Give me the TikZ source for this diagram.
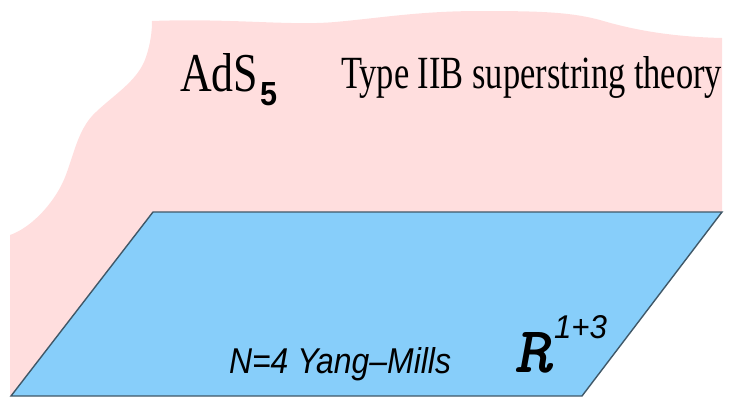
\documentclass[tikz,border=0pt]{standalone}
\usepackage{fontspec}
\setmainfont{Liberation Serif}
\newfontfamily\helv{Liberation Sans}
\usepackage{graphicx}
\definecolor{bulkpink}{RGB}{255,222,222}
\definecolor{braneblue}{RGB}{135,206,250}
\definecolor{braneedge}{RGB}{64,88,104}
\tikzset{
  label/.style={inner sep=0pt, outer sep=0pt, anchor=base west},
}
\begin{document}
\begin{tikzpicture}[x=1pt,y=-1pt]
\useasboundingbox (0,0) rectangle (731,397);
% bulk region (AdS_5), drawn behind the brane
\fill[bulkpink]
  (152,21) .. controls (230,18) and (290,26) .. (335,22)
           .. controls (380,18) and (420,11) .. (480,11)
           .. controls (540,11) and (570,12) .. (600,20)
           .. controls (640,32) and (680,37) .. (722,38)
  -- (722,212) -- (582,396) -- (10,396) -- (10,235)
           .. controls (30,228) and (50,207) .. (61,186)
           .. controls (72,165) and (75,135) .. (92,116)
           .. controls (110,97) and (138,82) .. (146,57)
           .. controls (151,42) and (152,30) .. (152,21)
  -- cycle;
% the boundary R^{1+3}
\coordinate (tl) at (153,212);
\coordinate (tr) at (722,212);
\coordinate (br) at (582,396);
\coordinate (bl) at (11,396);
\draw[braneedge, line width=1.4pt, fill=braneblue, line join=miter] (tl) -- (tr) -- (br) -- (bl) -- cycle;
% labels
\node[label] (ads) at (180,91) {\resizebox{78pt}{38pt}{AdS}};
\node[label] (ads5) at (260,105) {\resizebox{17pt}{23pt}{\helv\bfseries 5}};
\node[label] (iib) at (341,88) {\resizebox{381pt}{32pt}{Type IIB superstring theory}};
\node[label] (ym) at (229,373) {\resizebox{222pt}{26pt}{\helv\itshape N=4 Yang\textendash Mills}};
\node[label] (rr) at (514,372) {\resizebox{38pt}{40pt}{\ttfamily\bfseries\slshape R}};
\node[label] (rsup) at (554,338) {\resizebox{53pt}{23pt}{\helv\itshape 1+3}};
\end{tikzpicture}
\end{document}
